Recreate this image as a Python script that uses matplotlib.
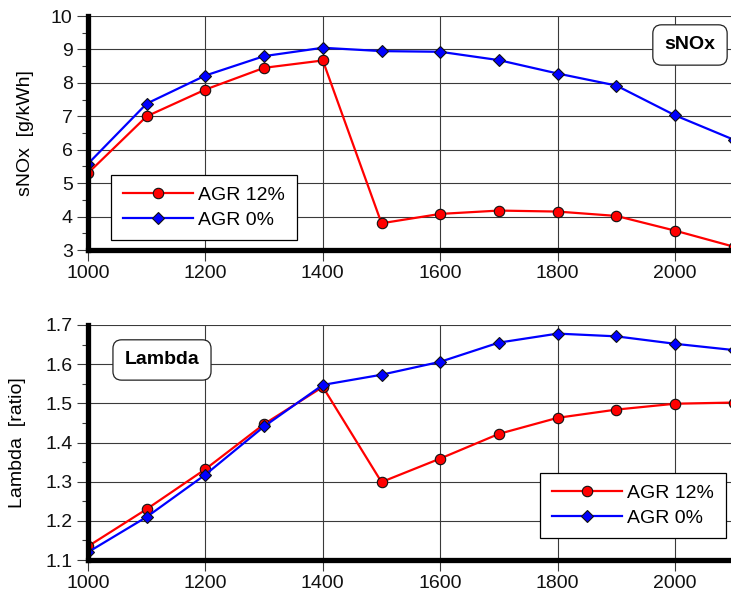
import numpy as np
import matplotlib
matplotlib.use('Agg')
import matplotlib.pyplot as plt
from matplotlib.ticker import MultipleLocator

plt.rcParams['font.family'] = ['Liberation Sans', 'DejaVu Sans']
plt.rcParams['font.size'] = 14

# engine speed sweep
rpm = [1000, 1100, 1200, 1300, 1400, 1500, 1600, 1700, 1800, 1900, 2000, 2100]

# specific NOx emissions [g/kWh]
snox_agr12 = [5.30, 7.00, 7.80, 8.45, 8.67, 3.80, 4.08, 4.18, 4.15, 4.02, 3.58, 3.10]
snox_agr0 = [5.58, 7.38, 8.22, 8.80, 9.05, 8.95, 8.93, 8.68, 8.28, 7.92, 7.03, 6.30]

# air/fuel ratio lambda
lambda_agr12 = [1.135, 1.230, 1.332, 1.447, 1.542, 1.299, 1.359, 1.422, 1.463, 1.484, 1.499, 1.502]
lambda_agr0 = [1.120, 1.210, 1.318, 1.441, 1.547, 1.573, 1.606, 1.655, 1.678, 1.671, 1.652, 1.636]

labels = ['AGR 12%', 'AGR 0%']

fig = plt.figure(figsize=(7.31, 5.95), dpi=100)
ax1 = fig.add_axes([0.1204, 0.5798, 0.8833, 0.3933])
ax2 = fig.add_axes([0.1204, 0.0588, 0.8833, 0.3950])


def style_axis(ax, ylim, ymajor, yminor):
    ax.set_xlim(1000, 2100)
    ax.set_ylim(*ylim)
    ax.xaxis.set_major_locator(MultipleLocator(200))
    ax.yaxis.set_major_locator(MultipleLocator(ymajor))
    ax.yaxis.set_minor_locator(MultipleLocator(yminor))
    ax.grid(True, which='major', color='#3a3a3a', linewidth=0.8)
    ax.set_axisbelow(True)
    for side in ['top', 'right']:
        ax.spines[side].set_visible(False)
    for side in ['left', 'bottom']:
        ax.spines[side].set_linewidth(3.8)
        ax.spines[side].set_color('black')
        ax.spines[side].set_zorder(5)
    ax.tick_params(which='major', direction='out', length=8, width=0.8,
                   color='#3a3a3a', pad=3, labelsize=14, labelcolor='#111111')
    ax.tick_params(which='minor', axis='y', direction='out', length=4,
                   width=0.8, color='#3a3a3a')
    ax.tick_params(which='minor', axis='x', length=0)


def draw_series(ax, red_vals, blue_vals):
    ax.plot(rpm, red_vals, color='#ff0000', linewidth=1.6, marker='o',
            markersize=7.5, markerfacecolor='#ff0000', markeredgecolor='#111111',
            markeredgewidth=0.8, label=labels[0])
    ax.plot(rpm, blue_vals, color='#0000ff', linewidth=1.6, marker='D',
            markersize=6.5, markerfacecolor='#0000ff', markeredgecolor='#111111',
            markeredgewidth=0.8, label=labels[1])


def add_legend(ax, anchor):
    leg = ax.legend(loc='upper left', bbox_to_anchor=anchor,
                    bbox_transform=fig.transFigure, fontsize=14,
                    fancybox=False, framealpha=1, edgecolor='black',
                    borderpad=0.6, labelspacing=0.35, handlelength=3.6,
                    handletextpad=0.3, borderaxespad=0)
    leg.get_frame().set_linewidth(0.9)
    leg.set_zorder(10)


box_style = dict(boxstyle='round,pad=0.6,rounding_size=0.45',
                 facecolor='white', edgecolor='#222222', linewidth=0.9)

# sNOx panel
draw_series(ax1, snox_agr12, snox_agr0)
style_axis(ax1, (3, 10), 1, 0.5)
ax1.set_ylabel('sNOx  [g/kWh]', fontsize=14, labelpad=12)
add_legend(ax1, (0.1518, 0.7059))
fig.text(0.9439, 0.9244, 'sNOx', fontsize=14, fontweight='bold',
         ha='center', va='center', bbox=box_style, zorder=10)

# Lambda panel
draw_series(ax2, lambda_agr12, lambda_agr0)
style_axis(ax2, (1.1, 1.7), 0.1, 0.05)
ax2.set_ylabel('Lambda  [ratio]', fontsize=14, labelpad=14)
add_legend(ax2, (0.7387, 0.2050))
fig.text(0.2216, 0.395, 'Lambda', fontsize=14, fontweight='bold',
         ha='center', va='center', bbox=box_style, zorder=10)

fig.savefig('out.png', dpi=100)
